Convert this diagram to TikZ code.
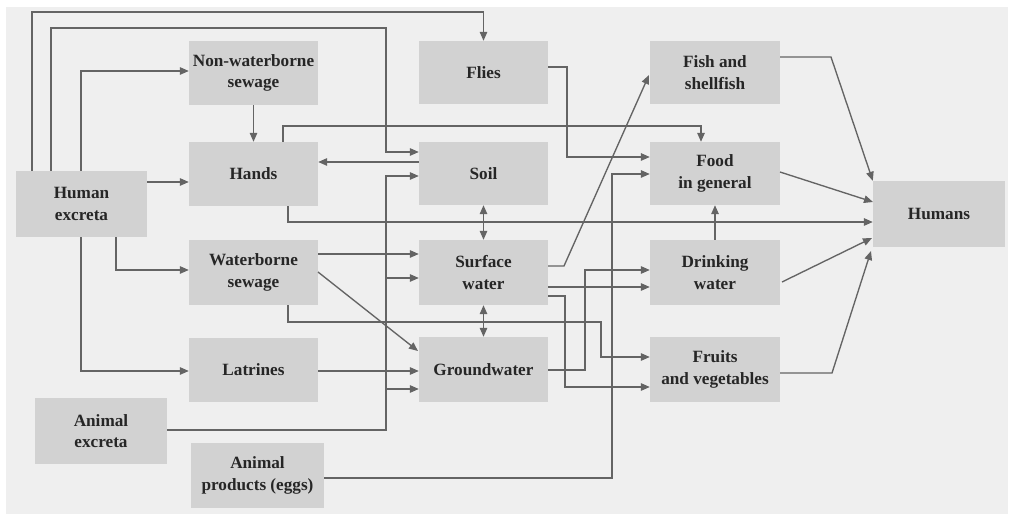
\documentclass[tikz,border=0pt]{standalone}
\usepackage{fontspec}
\setmainfont{Liberation Serif}
\usetikzlibrary{arrows.meta,calc}
\definecolor{paper}{HTML}{EFEFEF}
\definecolor{boxfill}{HTML}{D2D2D2}
\definecolor{txt}{HTML}{262626}
\definecolor{ln}{HTML}{646464}
\begin{document}
\begin{tikzpicture}[x=1pt,y=-1pt,
  box/.style={fill=boxfill,draw=none,inner sep=0pt,align=center,text=txt,
    font=\fontsize{17.2}{21.5}\selectfont\bfseries},
  conn/.style={draw=ln,line width=1.35pt},
  arr/.style={conn,-{Triangle[length=9pt,width=7.5pt]}},
  darr/.style={conn,{Triangle[length=9pt,width=7.5pt]}-{Triangle[length=9pt,width=7.5pt]}}]
\useasboundingbox (0,0) rectangle (1010,521);
\fill[white] (0,0) rectangle (1010,521);
\fill[paper] (6,7) rectangle (1008,514);

% nodes
\node[box,minimum width=131pt,minimum height=66pt] (hex) at (81.5,204) {Human\\excreta};
\node[box,minimum width=129pt,minimum height=64pt] (nws) at (253.5,73) {Non-waterborne\\sewage};
\node[box,minimum width=129pt,minimum height=64pt] (hands) at (253.5,174) {Hands};
\node[box,minimum width=129pt,minimum height=65pt] (wbs) at (253.5,272.5) {Waterborne\\sewage};
\node[box,minimum width=129pt,minimum height=64pt] (lat) at (253.5,370) {Latrines};
\node[box,minimum width=132pt,minimum height=66pt] (aex) at (101,431) {Animal\\excreta};
\node[box,minimum width=133pt,minimum height=65pt] (aprod) at (257.5,475.5) {Animal\\products (eggs)};
\node[box,minimum width=129pt,minimum height=63pt] (flies) at (483.5,72.5) {Flies};
\node[box,minimum width=129pt,minimum height=63pt] (soil) at (483.5,173.5) {Soil};
\node[box,minimum width=129pt,minimum height=65pt] (sw) at (483.5,272.5) {Surface\\water};
\node[box,minimum width=129pt,minimum height=65pt] (gw) at (483.5,369.5) {Groundwater};
\node[box,minimum width=130pt,minimum height=63pt] (fish) at (715,72.5) {Fish and\\shellfish};
\node[box,minimum width=130pt,minimum height=63pt] (food) at (715,173.5) {Food\\in general};
\node[box,minimum width=130pt,minimum height=65pt] (dw) at (715,272.5) {Drinking\\water};
\node[box,minimum width=130pt,minimum height=65pt] (fv) at (715,369.5) {Fruits\\and vegetables};
\node[box,minimum width=132pt,minimum height=66pt] (humans) at (939,214) {Humans};

% bend coordinates
\coordinate (c1) at (32,12);
\coordinate (c1b) at (483.5,12);
\coordinate (c2) at (51,28);
\coordinate (c2b) at (386,28);
\coordinate (c2c) at (386,152);
\coordinate (c3) at (81,71);
\coordinate (c4) at (148,182);
\coordinate (c5) at (81,371);
\coordinate (c6) at (116,270);
\coordinate (c8) at (283,126);
\coordinate (c8b) at (701,126);
\coordinate (c9) at (419,162);
\coordinate (c10) at (288,222);
\coordinate (c11) at (386,430);
\coordinate (c11b) at (386,176);
\coordinate (c11s) at (386,278);
\coordinate (c11g) at (386,389);
\coordinate (c12) at (318,254);
\coordinate (c13a) at (318,272);
\coordinate (c13b) at (418,351);
\coordinate (c14) at (288,322);
\coordinate (c14b) at (601,322);
\coordinate (c14c) at (601,357);
\coordinate (c15) at (318,371);
\coordinate (c17) at (567,67);
\coordinate (c17b) at (567,157);
\coordinate (c18) at (612,478);
\coordinate (c18b) at (612,174);
\coordinate (c19) at (564,266);
\coordinate (c19b) at (649,75);
\coordinate (c20) at (548,287);
\coordinate (c21) at (585,370);
\coordinate (c21b) at (585,270);
\coordinate (c22) at (565,296);
\coordinate (c22b) at (565,387);
\coordinate (c24) at (831,57);
\coordinate (c25a) at (780,172);
\coordinate (c25b) at (873,202);
\coordinate (c26a) at (782,282);
\coordinate (c26b) at (872,238);
\coordinate (c27) at (832,373);
\coordinate (c27b) at (871,251);

% connectors
\draw[arr] (hex.north -| c1) -- (c1) -- (c1b) -- (flies.north);
\draw[arr] (hex.north -| c2) -- (c2) -- (c2b) -- (c2c) -- (c2c -| soil.west);
\draw[arr] (hex.north -| c3) -- (c3) -- (c3 -| nws.west);
\draw[arr] (c4 -| hex.east) -- (c4 -| hands.west);
\draw[arr] (hex.south -| c5) -- (c5) -- (c5 -| lat.west);
\draw[arr] (hex.south -| c6) -- (c6) -- (c6 -| wbs.west);
\draw[arr] (nws.south) -- (hands.north);
\draw[arr] (hands.north -| c8) -- (c8) -- (c8b) -- (food.north -| c8b);
\draw[arr] (c9 -| soil.west) -- (c9 -| hands.east);
\draw[arr] (hands.south -| c10) -- (c10) -- (c10 -| humans.west);
\draw[arr] (c11 -| aex.east) -- (c11) -- (c11b) -- (c11b -| soil.west);
\draw[arr] (c11s) -- (c11s -| sw.west);
\draw[arr] (c11g) -- (c11g -| gw.west);
\draw[arr] (c12 -| wbs.east) -- (c12 -| sw.west);
\draw[arr] (c13a) -- (c13b);
\draw[arr] (wbs.south -| c14) -- (c14) -- (c14b) -- (c14c) -- (c14c -| fv.west);
\draw[arr] (c15 -| lat.east) -- (c15 -| gw.west);
\draw[darr] (soil.south) -- (sw.north);
\draw[darr] (sw.south) -- (gw.north);
\draw[arr] (c17 -| flies.east) -- (c17) -- (c17b) -- (c17b -| food.west);
\draw[arr] (c18 -| aprod.east) -- (c18) -- (c18b) -- (c18b -| food.west);
\draw[arr] (c19 -| sw.east) -- (c19) -- (c19b);
\draw[arr] (c20 -| sw.east) -- (c20 -| dw.west);
\draw[arr] (c21 -| gw.east) -- (c21) -- (c21b) -- (c21b -| dw.west);
\draw[arr] (c22 -| sw.east) -- (c22) -- (c22b) -- (c22b -| fv.west);
\draw[arr] (dw.north) -- (food.south);
\draw[arr] (c24 -| fish.east) -- (c24) -- (humans.north west);
\draw[arr] (c25a) -- (c25b);
\draw[arr] (c26a) -- (c26b);
\draw[arr] (c27 -| fv.east) -- (c27) -- (c27b);
\end{tikzpicture}
\end{document}
